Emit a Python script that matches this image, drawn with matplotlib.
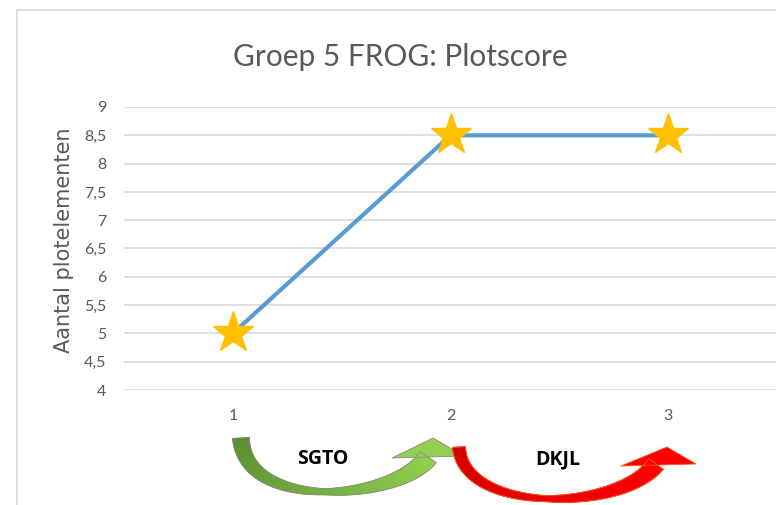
import matplotlib
matplotlib.use("Agg")
import numpy as np
import matplotlib.pyplot as plt
from matplotlib.patches import Rectangle, Polygon
from matplotlib.collections import PolyCollection
from matplotlib.colors import to_rgb
from matplotlib.ticker import FuncFormatter

# data
rondes = [1, 2, 3]
plotscore = [5, 8.5, 8.5]
y_ticks = [4, 4.5, 5, 5.5, 6, 6.5, 7, 7.5, 8, 8.5, 9]
pijl_labels = ["SGTO", "DKJL"]

grijs = "#595959"

fig = plt.figure(figsize=(7.76, 5.05), dpi=100)
W, H = 776.0, 505.0

# light frame of the chart area (only top and left visible)
fig.patches.append(Rectangle((17 / W, -1), 2, 2 - 10 / H, transform=fig.transFigure,
                             fill=False, edgecolor="#d9d9d9", linewidth=1.2))

ax = fig.add_axes([124 / W, 1 - 390 / H, 653 / W, 283 / H])
ax.plot(rondes, plotscore, color="#5B9BD5", linewidth=3, marker="*",
        markersize=31, markerfacecolor="#FFC000", markeredgecolor="#FFC000",
        solid_capstyle="butt", zorder=3)

ax.set_xlim(0.5, 3.5)
ax.set_ylim(4, 9)
ax.set_yticks(y_ticks)
ax.yaxis.set_major_formatter(FuncFormatter(lambda v, p: ("%g" % v).replace(".", ",")))
ax.set_xticks(rondes)
ax.grid(axis="y", color="#d9d9d9", linewidth=1.2)
ax.set_axisbelow(True)
for s in ax.spines.values():
    s.set_visible(False)
ax.tick_params(length=0, colors=grijs, labelsize=11.5)
ax.tick_params(axis="y", pad=12.5)
ax.tick_params(axis="x", pad=14)
for lab in ax.get_xticklabels() + ax.get_yticklabels():
    lab.set_fontfamily("Lato")

ax.set_ylabel("Aantal plotelementen", fontsize=15, color=grijs, family="DejaVu Sans")
ax.yaxis.set_label_coords(-0.077, 0.53)
fig.text(400 / W, 1 - 57 / H, "Groep 5 FROG: Plotscore", ha="center", va="center",
         fontsize=21.5, color=grijs, family="Lato")


# curved "up" arrows under the x axis (pixel coords, y downwards)
def fpt(p):
    return (p[0] / W, 1 - p[1] / H)


def curved_arrow(ctrl, widths, head, c0, c1, edge):
    t = np.linspace(0, 1, 60)
    P = np.array(ctrl, dtype=float)
    b = ((1 - t) ** 3)[:, None] * P[0] + (3 * (1 - t) ** 2 * t)[:, None] * P[1] \
        + (3 * (1 - t) * t ** 2)[:, None] * P[2] + (t ** 3)[:, None] * P[3]
    d = (3 * (1 - t) ** 2)[:, None] * (P[1] - P[0]) + (6 * (1 - t) * t)[:, None] * (P[2] - P[1]) \
        + (3 * t ** 2)[:, None] * (P[3] - P[2])
    d /= np.linalg.norm(d, axis=1)[:, None]
    nrm = np.column_stack([-d[:, 1], d[:, 0]])
    w = np.interp(t, [0, 0.5, 1], widths) / 2
    left = b + nrm * w[:, None]
    right = b - nrm * w[:, None]
    a, z = np.array(to_rgb(c0)), np.array(to_rgb(c1))
    quads, cols = [], []
    for i in range(len(t) - 1):
        q = [left[i], left[i + 1], right[i + 1], right[i]]
        quads.append([fpt(p) for p in q])
        cols.append(a + (z - a) * t[i])
    pc = PolyCollection(quads, facecolors=cols, edgecolors=cols, linewidths=0.6,
                        transform=fig.transFigure)
    fig.add_artist(pc)
    outline = np.vstack([left, right[::-1], left[:1]])
    fig.add_artist(plt.Line2D([fpt(p)[0] for p in outline], [fpt(p)[1] for p in outline],
                              transform=fig.transFigure, color=edge, linewidth=0.6))
    fig.add_artist(Polygon([fpt(p) for p in head], closed=True, transform=fig.transFigure,
                           facecolor=c1, edgecolor=edge, linewidth=0.6))


# green arrow SGTO
curved_arrow([(241, 438), (245, 513), (398, 500), (428, 457)], [17, 6, 20],
             [(433, 438), (392, 458), (464, 456)], "#5c8f30", "#92D050", "#8a8a8a")
# red arrow DKJL
curved_arrow([(459, 447), (463, 514), (620, 512), (656, 464)], [13, 6, 18],
             [(667, 447), (621, 466), (696, 464)], "#d40000", "#ff0000", "#ff5a1a")

fig.text(323 / W, 1 - 459 / H, pijl_labels[0], ha="center", va="center",
         fontsize=14, fontweight="bold", color="black", family="Open Sans")
fig.text(558 / W, 1 - 459 / H, pijl_labels[1], ha="center", va="center",
         fontsize=14, fontweight="bold", color="black", family="Open Sans")

fig.savefig("out.png", dpi=100)
